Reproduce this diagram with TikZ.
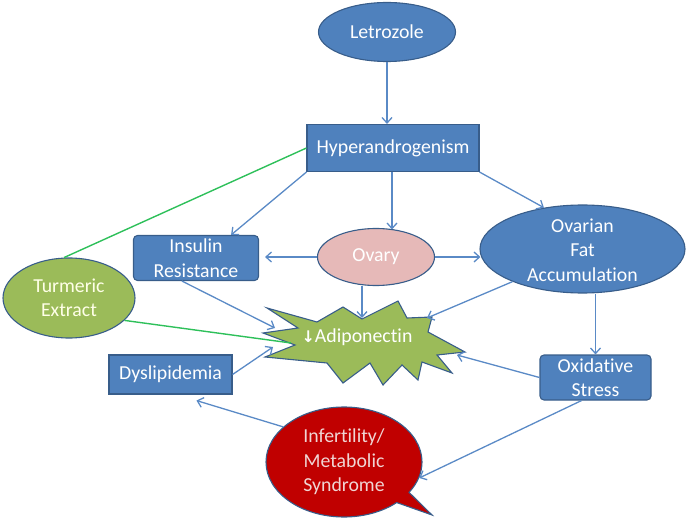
\documentclass[tikz,border=0pt]{standalone}
\usepackage{fontspec}
\setmainfont[Ligatures=NoCommon]{Carlito}
\newfontfamily\dejavu{DejaVu Sans}
\usetikzlibrary{arrows.meta,shapes.geometric,shapes.callouts}
\definecolor{boxblue}{HTML}{4F81BD}
\definecolor{edgeblue}{HTML}{385D8A}
\definecolor{arrblue}{HTML}{5A8AC6}
\definecolor{olivefill}{HTML}{9BBB59}
\definecolor{pinkfill}{HTML}{E6B9B8}
\definecolor{darkred}{HTML}{C00000}
\definecolor{lgreen}{HTML}{2EC05A}
\definecolor{paleyellow}{HTML}{FFFFE8}
\begin{document}
\begin{tikzpicture}[x=1pt,y=-1pt, font=\fontsize{19.8}{24.5}\selectfont,
  base/.style={draw=edgeblue, line width=1.1pt, text=white, align=center, inner sep=0pt},
  rectbox/.style={base, fill=boxblue, rectangle},
  roundbox/.style={rectbox, rounded corners=4pt},
  oval/.style={base, ellipse, fill=boxblue},
  arr/.style={draw=arrblue, line width=1.3pt, -{Straight Barb[length=5.5pt,width=10pt]}},
  gline/.style={draw=lgreen, line width=1.4pt},
  plain/.style={align=center, inner sep=0pt}]

\useasboundingbox (0,0) rectangle (688,529);

% nodes
\node[oval, minimum width=137pt, minimum height=59pt] (let) at (387,32) {Letrozole};
\node[rectbox, minimum width=172pt, minimum height=47pt] (hyp) at (393,148) {Hyperandrogenism};
\node[roundbox, minimum width=125pt, minimum height=45pt] (ins) at (196,258) {Insulin\\Resistance};
\node[base, ellipse, fill=pinkfill, minimum width=117pt, minimum height=57pt] (ova) at (376,257) {Ovary};
\node[oval, minimum width=205pt, minimum height=88pt] (ofa) at (582.5,249) {};
\node[plain, text=white] (ofat) at (582.5,250) {Ovarian\\Fat\\Accumulation};
\node[base, ellipse, fill=olivefill, text=paleyellow, minimum width=132pt, minimum height=80pt] (tur) at (69,298) {Turmeric\\Extract};
\node[rectbox, minimum width=123pt, minimum height=39pt] (dys) at (170.5,374.5) {Dyslipidemia};
\node[roundbox, minimum width=111pt, minimum height=45pt] (oxs) at (595.5,377.5) {Oxidative\\Stress};
\node[base, ellipse callout, fill=darkred, text=pinkfill!60!white, minimum width=156pt, minimum height=110pt,
      callout absolute pointer={(432,515)}, callout pointer arc=14] (inf) at (344,462) {Infertility/\\Metabolic\\Syndrome};

% star (adiponectin)
\draw[draw=edgeblue, line width=1.1pt, fill=olivefill]
  (267,308) -- (317,322) -- (343,307) -- (362,319) -- (398,301) -- (407,318) -- (432,317) -- (428,332)
  -- (465,352) -- (437,355) -- (452,373) -- (422,362) -- (418,380) -- (402,365) -- (383,385) -- (370,363)
  -- (343,383) -- (327,363) -- (265,357) -- (295,345) -- (263,333) -- (298,328) -- cycle;
\node[plain, text=white] (adi) at (357,337) {{\dejavu\bfseries\fontsize{16}{16}\selectfont\textcolor{white}{↓}}Adiponectin};
\coordinate (sOva) at (362,318);
\coordinate (sIns) at (275,328);
\coordinate (sDys) at (273,347);
\coordinate (sOfa) at (427,318);
\coordinate (sOxs) at (457,355);
\coordinate (sTur) at (291,343);

% connectors
\draw[arr] (let.south) -- (hyp.north -| let.south);
\draw[arr] (hyp.south west) -- ([xshift=-28pt]ins.north east);
\draw[arr] ([xshift=16pt]hyp.south -| ova.north) -- ([xshift=16pt,yshift=-1.5pt]ova.north);
\draw[arr] (hyp.south east) -- (ofa.133);
\draw[gline] (hyp.west) -- (tur.97);
\draw[arr, shorten >=6pt] (ova.west) -- (ins.east |- ova.west);
\draw[arr] (ova.east) -- ([xshift=1pt]ofa.west |- ova.east);
\draw[arr] ([xshift=-14pt]ova.south) -- (sOva);
\draw[arr] ([xshift=49pt]ins.south west) -- (sIns);
\draw[arr] (ofa.205) -- (sOfa);
\draw[gline] (tur.-22) -- (sTur);
\draw[arr] (dys.east) -- (sDys);
\draw[arr] (oxs.north |- ofa.south) -- (oxs.north);
\draw[arr] (oxs.west) -- (sOxs);
\draw[arr] ([xshift=-14pt]oxs.south) -- (inf.-12);
\draw[arr] (inf.150) -- ([xshift=88pt, yshift=-6pt]dys.south west);
\end{tikzpicture}
\end{document}
